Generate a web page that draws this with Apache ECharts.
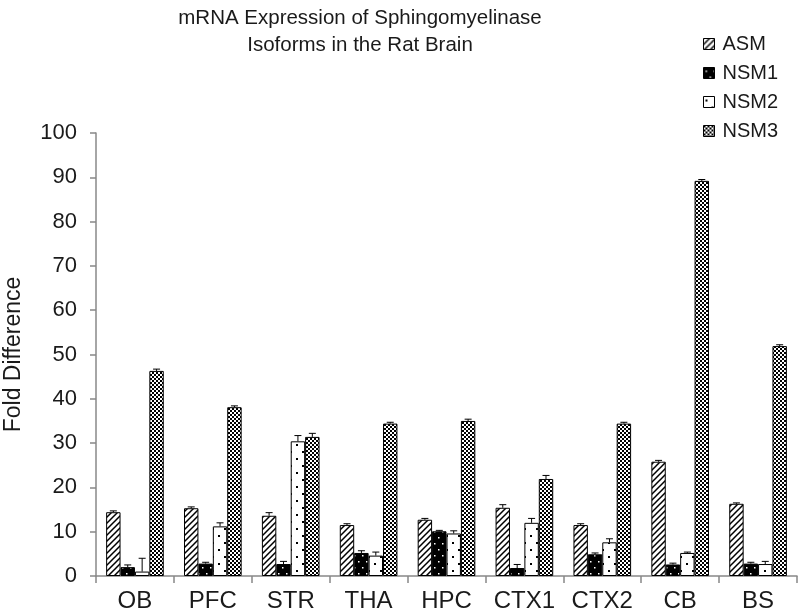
<!DOCTYPE html>
<html>
<head>
<meta charset="utf-8">
<script src="https://cdn.jsdelivr.net/npm/echarts@6/dist/echarts.min.js"></script>
<style>html,body{margin:0;padding:0;background:#fff;}#c{width:799px;height:614px;}</style>
</head>
<body>
<div id="c"></div>
<script>
const categories = ['OB', 'PFC', 'STR', 'THA', 'HPC', 'CTX1', 'CTX2', 'CB', 'BS'];
const seriesNames = ['ASM', 'NSM1', 'NSM2', 'NSM3'];
const asm  = [14.4, 15.3, 13.6, 11.5, 12.7, 15.4, 11.5, 25.8, 16.3];
const nsm1 = [2.0, 2.8, 2.7, 5.2, 10.1, 1.8, 4.9, 2.6, 2.8];
const nsm2 = [1.0, 11.2, 30.4, 4.6, 9.6, 12.0, 7.6, 5.2, 2.7];
const nsm3 = [46.3, 38.1, 31.4, 34.4, 35.0, 21.9, 34.4, 89.2, 51.9];
const asmErr  = [0.3, 0.3, 0.7, 0.3, 0.3, 0.7, 0.3, 0.3, 0.2];
const nsm1Err = [0.5, 0.3, 0.6, 0.5, 0.2, 0.8, 0.3, 0.3, 0.3];
const nsm2Err = [3.0, 0.8, 1.3, 0.8, 0.6, 1.0, 0.8, 0.2, 0.6];
const nsm3Err = [0.4, 0.3, 0.8, 0.3, 0.4, 0.8, 0.3, 0.3, 0.3];
const yTicks = [0, 10, 20, 30, 40, 50, 60, 70, 80, 90, 100];

const values = [asm, nsm1, nsm2, nsm3];
const errors = [asmErr, nsm1Err, nsm2Err, nsm3Err];

function mk(w, h, draw) {
  const c = document.createElement('canvas');
  c.width = w; c.height = h;
  const g = c.getContext('2d');
  draw(g);
  return c;
}
const patterns = [
  mk(6, 6, g => { g.fillStyle = '#fff'; g.fillRect(0,0,6,6); g.strokeStyle = '#000'; g.lineWidth = 1.5;
    g.beginPath(); g.moveTo(-1,7); g.lineTo(7,-1); g.moveTo(-1,1); g.lineTo(1,-1); g.moveTo(5,7); g.lineTo(7,5); g.stroke(); }),
  mk(8, 12, g => { g.fillStyle = '#000'; g.fillRect(0,0,8,12); g.fillStyle = '#fff';
    g.fillRect(2,3,1.5,1.5); g.fillRect(6,9,1.5,1.5); }),
  mk(12, 14, g => { g.fillStyle = '#fff'; g.fillRect(0,0,12,14); g.fillStyle = '#000';
    g.fillRect(2,3,2,2); g.fillRect(8,10,2,2); }),
  mk(4, 4, g => { g.fillStyle = '#fff'; g.fillRect(0,0,4,4); g.fillStyle = '#000';
    g.fillRect(0,0,2,2); g.fillRect(2,2,2,2); })
];

const GAP = 0.26;
const font = 'Liberation Sans, Arial, sans-serif';
const txt = '#1a1a1a';

const series = [];
seriesNames.forEach((n, i) => {
  series.push({
    name: n, type: 'bar', data: values[i],
    barGap: '0%', barCategoryGap: (GAP * 100) + '%',
    itemStyle: { color: { image: patterns[i], repeat: 'repeat' }, borderColor: '#000', borderWidth: 1 },
    emphasis: { disabled: true }
  });
});
seriesNames.forEach((n, i) => {
  series.push({
    name: n + ' err', type: 'custom', z: 5,
    data: categories.map((c, k) => [k, values[i][k], errors[i][k]]),
    renderItem: function (params, api) {
      const x = api.value(0), v = api.value(1), e = api.value(2);
      const band = api.size([1, 0])[0];
      const groupW = band * (1 - GAP);
      const bw = groupW / 4;
      const cx = api.coord([x, v])[0] - groupW / 2 + (i + 0.5) * bw;
      const y0 = api.coord([x, v])[1];
      const y1 = api.coord([x, v + e])[1];
      const st = { stroke: '#000', lineWidth: 1 };
      return { type: 'group', children: [
        { type: 'line', shape: { x1: cx, y1: y0, x2: cx, y2: y1 }, style: st },
        { type: 'line', shape: { x1: cx - 3.5, y1: y1, x2: cx + 3.5, y2: y1 }, style: st }
      ]};
    }
  });
});

const chart = echarts.init(document.getElementById('c'));
chart.setOption({
  animation: false,
  backgroundColor: '#fff',
  textStyle: { fontFamily: font },
  graphic: [{
    type: 'text', x: 360, y: 5,
    style: { text: 'mRNA Expression of Sphingomyelinase\nIsoforms in the Rat Brain', textAlign: 'center',
      fontSize: 20.5, lineHeight: 27, fontFamily: font, fill: txt }
  }],
  legend: {
    data: seriesNames, orient: 'vertical', left: 698, top: 29,
    itemWidth: 11, itemHeight: 11, itemGap: 9,
    itemStyle: { borderColor: '#000', borderWidth: 1 },
    textStyle: { fontSize: 20, lineHeight: 20, color: txt, fontFamily: font, padding: [0, 0, 0, 3] },
    icon: 'rect'
  },
  grid: { left: 96, right: 2, top: 133, bottom: 38, containLabel: false, outerBoundsMode: 'none' },
  xAxis: {
    type: 'category', data: categories,
    axisLine: { lineStyle: { color: '#888', width: 1.5 } },
    axisTick: { show: true, length: 7, lineStyle: { color: '#888', width: 1.5 } },
    axisLabel: { fontSize: 24, color: txt, margin: 13, fontFamily: font, interval: 0, hideOverlap: false }
  },
  yAxis: {
    type: 'value', min: yTicks[0], max: yTicks[yTicks.length - 1], interval: 10,
    name: 'Fold Difference', nameLocation: 'middle', nameGap: 71,
    nameTextStyle: { fontSize: 23, color: txt, fontFamily: font },
    axisLine: { show: true, lineStyle: { color: '#888', width: 1.5 } },
    axisTick: { show: true, length: 6, lineStyle: { color: '#888', width: 1.5 } },
    splitLine: { show: false },
    axisLabel: { fontSize: 22, color: txt, margin: 19, fontFamily: font }
  },
  series: series
});
</script>
</body>
</html>
